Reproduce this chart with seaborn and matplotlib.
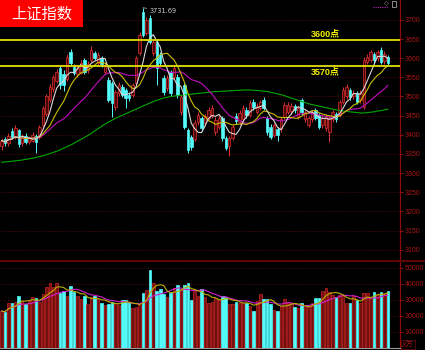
import numpy as np
import pandas as pd
import matplotlib
matplotlib.use("Agg")
import matplotlib.pyplot as plt
from matplotlib.lines import Line2D
from matplotlib.patches import Rectangle
import seaborn as sns

# ---------------- data ----------------
opens = [3372, 3388, 3378, 3410, 3395, 3412, 3378, 3398, 3382, 3385,
         3398, 3395, 3425, 3455, 3490, 3520, 3540, 3575, 3560, 3545,
         3616, 3577, 3560, 3562, 3595, 3568, 3595, 3614, 3588, 3600,
         3564, 3543, 3535, 3473, 3509, 3525, 3517, 3505, 3504, 3535,
         3614, 3721, 3665, 3705, 3614, 3643, 3608, 3548, 3522, 3564,
         3551, 3551, 3460, 3530, 3413, 3394, 3390, 3433, 3444, 3430,
         3444, 3450, 3408, 3420, 3444, 3392, 3370, 3392, 3450, 3433,
         3440, 3465, 3452, 3486, 3460, 3470, 3491, 3444, 3421, 3400,
         3415, 3415, 3447, 3460, 3462, 3475, 3447, 3491, 3440, 3426,
         3440, 3465, 3452, 3425, 3418, 3408, 3440, 3455, 3452, 3486,
         3500, 3517, 3500, 3509, 3490, 3473, 3590, 3595, 3610, 3600,
         3622, 3592, 3603]
closes = [3385, 3378, 3398, 3395, 3418, 3375, 3395, 3380, 3392, 3400,
          3382, 3420, 3470, 3500, 3525, 3550, 3565, 3530, 3530, 3603,
          3588, 3562, 3575, 3588, 3565, 3585, 3622, 3601, 3608, 3585,
          3580, 3491, 3483, 3512, 3530, 3505, 3496, 3495, 3530, 3600,
          3661, 3661, 3700, 3643, 3643, 3575, 3588, 3512, 3548, 3509,
          3575, 3504, 3499, 3421, 3360, 3368, 3431, 3452, 3418, 3448,
          3465, 3470, 3439, 3445, 3392, 3366, 3392, 3420, 3435, 3457,
          3470, 3452, 3483, 3473, 3475, 3485, 3470, 3408, 3394, 3425,
          3400, 3440, 3478, 3478, 3475, 3465, 3470, 3460, 3460, 3444,
          3460, 3444, 3421, 3445, 3447, 3444, 3460, 3440, 3486, 3517,
          3525, 3499, 3510, 3486, 3510, 3595, 3603, 3616, 3595, 3616,
          3590, 3610, 3588]
highs = [3392, 3395, 3405, 3418, 3425, 3416, 3402, 3405, 3398, 3406,
         3402, 3426, 3476, 3506, 3532, 3556, 3572, 3580, 3568, 3610,
         3625, 3585, 3582, 3595, 3600, 3592, 3632, 3620, 3616, 3606,
         3588, 3550, 3540, 3518, 3538, 3532, 3522, 3512, 3536, 3606,
         3668, 3731.69, 3708, 3712, 3650, 3648, 3615, 3555, 3555, 3570,
         3582, 3558, 3505, 3536, 3418, 3400, 3438, 3460, 3450, 3455,
         3472, 3478, 3446, 3452, 3450, 3398, 3398, 3428, 3456, 3464,
         3478, 3472, 3490, 3493, 3482, 3492, 3498, 3450, 3428, 3432,
         3420, 3447, 3486, 3485, 3482, 3480, 3476, 3497, 3466, 3450,
         3466, 3470, 3458, 3452, 3454, 3450, 3466, 3460, 3492, 3524,
         3532, 3523, 3517, 3515, 3516, 3602, 3610, 3622, 3616, 3622,
         3628, 3620, 3608]
lows = [3360, 3370, 3372, 3388, 3390, 3368, 3372, 3375, 3376, 3380,
        3353, 3390, 3420, 3450, 3485, 3512, 3535, 3520, 3515, 3540,
        3582, 3555, 3552, 3558, 3558, 3562, 3590, 3596, 3582, 3578,
        3558, 3485, 3447, 3466, 3502, 3498, 3470, 3488, 3498, 3530,
        3608, 3655, 3660, 3636, 3606, 3530, 3580, 3505, 3515, 3500,
        3545, 3496, 3452, 3415, 3352, 3360, 3384, 3426, 3410, 3424,
        3438, 3444, 3400, 3414, 3385, 3360, 3345, 3386, 3428, 3426,
        3434, 3445, 3446, 3466, 3453, 3464, 3464, 3400, 3388, 3394,
        3385, 3408, 3440, 3453, 3455, 3458, 3440, 3452, 3433, 3420,
        3434, 3438, 3414, 3418, 3410, 3381, 3434, 3434, 3446, 3480,
        3494, 3492, 3494, 3480, 3484, 3468, 3584, 3590, 3588, 3594,
        3584, 3586, 3582]
volumes = [23100, 22300, 27900, 28300, 28500, 32500, 29600, 27500, 30000, 31700,
           31000, 29000, 33750, 37900, 40400, 37900, 40400, 34600, 35800, 32500,
           38750, 35200, 32500, 30400, 32500, 27500, 32100, 32500, 30400, 27900,
           26900, 27300, 29000, 27900, 26900, 30000, 30000, 28500, 24800, 25800,
           26900, 34200, 36250, 48750, 40400, 35800, 36700, 33750, 31700, 34600,
           37300, 39400, 36700, 39400, 40400, 30000, 36250, 32500, 36700, 32100,
           28300, 29000, 31000, 30000, 32500, 32100, 27500, 27500, 29000, 28300,
           28300, 27900, 26250, 23300, 29600, 33500, 30400, 30600, 27300, 23750,
           23300, 26250, 30400, 29000, 27900, 25400, 24800, 27900, 25400, 25400,
           27900, 31000, 31000, 35600, 37300, 35200, 33100, 32100, 33100, 32500,
           27900, 27900, 32500, 30000, 28300, 34200, 34200, 30400, 34800, 33100,
           35200, 34400, 35600]
ma60 = [3328, 3329, 3330, 3331, 3332, 3333, 3334, 3336, 3337, 3339,
        3341, 3343, 3345, 3348, 3351, 3354, 3357, 3361, 3365, 3369,
        3373, 3378, 3383, 3388, 3393, 3398, 3404, 3410, 3416, 3422,
        3428, 3433, 3438, 3443, 3447, 3451, 3455, 3459, 3463, 3467,
        3471, 3475, 3479, 3483, 3487, 3490, 3493, 3496, 3498, 3500,
        3501, 3502, 3503, 3504, 3505, 3506, 3507, 3508, 3509, 3510,
        3511, 3512, 3513, 3513, 3514, 3514, 3515, 3515, 3516, 3516,
        3517, 3517, 3517, 3516, 3516, 3515, 3514, 3513, 3511, 3509,
        3507, 3505, 3502, 3499, 3496, 3493, 3490, 3487, 3484, 3481,
        3479, 3477, 3475, 3473, 3471, 3469, 3467, 3465, 3463, 3462,
        3461, 3460, 3459, 3458, 3457, 3457, 3458, 3459, 3460, 3462,
        3463, 3465, 3467]
price_ticks = [3100, 3150, 3200, 3250, 3300, 3350, 3400, 3450, 3500,
               3550, 3600, 3650, 3700]
vol_ticks = [10000, 20000, 30000, 40000, 50000]
level_values = [3648, 3580]
level_labels = ["3600点", "3570点"]
label_prices = [3664, 3564]
title_text = "上证指数"
peak_label = "3731.69"

# ---------------- style ----------------
sns.set_theme(style="dark", rc={"axes.facecolor": "black", "figure.facecolor": "black"})
plt.rcParams['font.family'] = ['DejaVu Sans', 'Noto Sans CJK SC']

W, H = 425, 350
fig = plt.figure(figsize=(W / 100, H / 100), dpi=100, facecolor="black")
ax = fig.add_axes([0, 90 / H, 400 / W, 260 / H])
axv = fig.add_axes([0, 2 / H, 400 / W, 87 / H])

RED_EDGE = "#e03030"
RED_FACE = "#4a0606"
CYAN = "#54fcfc"
AXRED = "#a81616"
GRIDRED = "#6e0c0c"

n = len(closes)
idx = np.arange(n)
o = np.array(opens, float)
c = np.array(closes, float)
up = c >= o

df = pd.DataFrame({"i": idx, "close": c, "vol": np.array(volumes, float),
                   "ma60": np.array(ma60, float)})
df["ma5"] = df["close"].rolling(5, min_periods=1).mean()
df["ma10"] = df["close"].rolling(10, min_periods=1).mean()
df["ma20"] = df["close"].rolling(20, min_periods=1).mean()
df["vma5"] = df["vol"].rolling(5, min_periods=1).mean()
df["vma10"] = df["vol"].rolling(10, min_periods=1).mean()

xlim = (-0.435, 115.5)

for a in (ax, axv):
    a.set_facecolor("black")
    a.set_xlim(*xlim)
    a.set_xticks([])
    for s in ("left", "top", "bottom"):
        a.spines[s].set_visible(False)
    a.spines["right"].set_color("#8a0c0c")
    a.spines["right"].set_linewidth(0.9)
    a.yaxis.tick_right()
    a.tick_params(axis="y", colors=AXRED, labelsize=5, length=2, width=0.6,
                  pad=1.5, direction="out")
    a.grid(axis="y", color=GRIDRED, linestyle=(0, (1, 2)), linewidth=0.6)
    a.grid(axis="x", visible=False)

# ---- price panel ----
ax.set_ylim(3073, 3752)
ax.set_yticks(price_ticks)
ax.set_yticklabels([str(t) for t in price_ticks], family="Liberation Sans")

colors_edge = np.where(up, RED_EDGE, CYAN)
colors_face = np.where(up, RED_FACE, CYAN)
ax.vlines(idx, lows, highs, colors=colors_edge, linewidth=0.7, zorder=2)
body_bottom = np.minimum(o, c)
body_h = np.maximum(np.abs(c - o), 1.5)
ax.bar(idx, body_h, bottom=body_bottom, width=0.72, color=colors_face,
       edgecolor=colors_edge, linewidth=0.5, zorder=3)

sns.lineplot(data=df, x="i", y="ma60", ax=ax, color="#00a800", linewidth=0.8, zorder=4)
sns.lineplot(data=df, x="i", y="ma20", ax=ax, color="#c010c0", linewidth=0.8, zorder=4)
sns.lineplot(data=df, x="i", y="ma10", ax=ax, color="#c8c000", linewidth=0.8, zorder=4)
sns.lineplot(data=df, x="i", y="ma5", ax=ax, color="#d8d8d8", linewidth=0.8, zorder=4)
ax.set_xlabel("")
ax.set_ylabel("")
ax.set_xlim(*xlim)

for lv, lab, lp in zip(level_values, level_labels, label_prices):
    ax.axhline(lv, color="#e0e000", linewidth=1.3, zorder=5)
    ax.text(93.8, lp, lab, color="#f0f000", fontsize=6.5, fontweight="bold",
            ha="center", va="center", zorder=6,
            family=["Liberation Sans", "Noto Sans CJK SC"])

peak_i = int(np.argmax(highs))
ax.annotate(peak_label, xy=(peak_i, highs[peak_i]), xytext=(5, -2),
            textcoords="offset points", color="#c8c8c8", fontsize=4.8,
            va="center", ha="left",
            arrowprops=dict(arrowstyle="-", color="#c8c8c8", lw=0.5,
                            shrinkA=0, shrinkB=0))

# ---- volume panel ----
axv.set_ylim(0, 54375)
axv.set_yticks(vol_ticks)
axv.set_yticklabels([str(t) for t in vol_ticks], family="Liberation Sans")
vface = np.where(up, "#721010", CYAN)
vedge = np.where(up, "#c82424", CYAN)
axv.bar(idx, volumes, width=0.75, color=vface, edgecolor=vedge, linewidth=0.5, zorder=3)
sns.lineplot(data=df, x="i", y="vma10", ax=axv, color="#d020d0", linewidth=0.8, zorder=4)
sns.lineplot(data=df, x="i", y="vma5", ax=axv, color="#b8b000", linewidth=0.8, zorder=4)
axv.set_xlabel("")
axv.set_ylabel("")
axv.set_xlim(*xlim)
axv.spines["bottom"].set_visible(True)
axv.spines["bottom"].set_color("#9a9a9a")
axv.spines["bottom"].set_linewidth(0.8)

# separator between panels
fig.add_artist(Line2D([0, 1], [1 - 261 / H, 1 - 261 / H], color="#5a0606",
                      linewidth=1.6, transform=fig.transFigure))

# unit box at bottom right
fig.text(402 / W, 1 - 344.5 / H, "X万", color=AXRED, fontsize=5, va="center", ha="left",
         family=["DejaVu Sans", "Noto Sans CJK SC"],
         bbox=dict(boxstyle="square,pad=0.15", facecolor="black", edgecolor="#7a0c0c", lw=0.5))

# title box
fig.add_artist(Rectangle((0, 1 - 27 / H), 83 / W, 27 / H, facecolor="#ff0000",
                         edgecolor="none", transform=fig.transFigure))
fig.text(41.5 / W, 1 - 14 / H, title_text, color="white", fontsize=11,
         ha="center", va="center", family=["Noto Sans CJK SC"])

# small icons at top right
fig.add_artist(Line2D([373 / W, 388 / W], [1 - 7 / H, 1 - 7 / H], color="#c020c0",
                      linewidth=0.8, linestyle=(0, (1, 1)), transform=fig.transFigure))
fig.text(386 / W, 1 - 3.5 / H, "◇", color="#a0a0a0", fontsize=4.5, ha="center", va="center")
fig.add_artist(Rectangle((392 / W, 1 - 7 / H), 4 / W, 6 / H, facecolor="none",
                         edgecolor="#a0a0a0", lw=0.6, transform=fig.transFigure))

fig.savefig("out.png", dpi=100, facecolor="black")
